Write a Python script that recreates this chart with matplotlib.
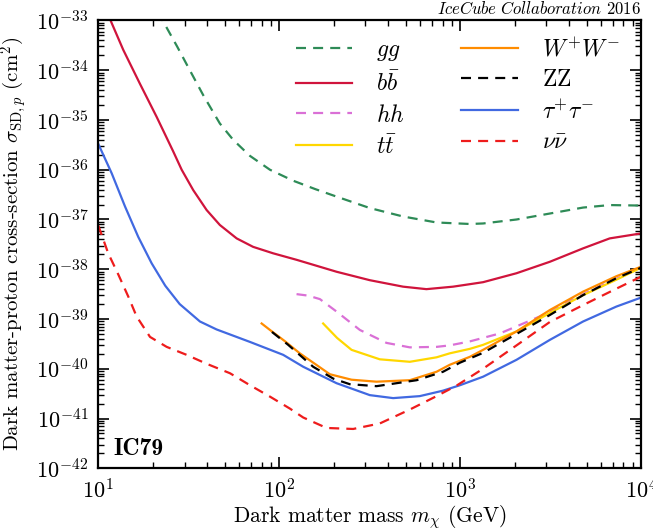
import numpy as np
import matplotlib
matplotlib.use("Agg")
import matplotlib.pyplot as plt

plt.rcParams['font.family'] = 'serif'
plt.rcParams['font.serif'] = ['cmr10', 'DejaVu Serif']
plt.rcParams['mathtext.fontset'] = 'cm'
plt.rcParams['axes.formatter.use_mathtext'] = True

# log10(mass / GeV) and log10(sigma / cm^2)
lm_gg = [1.33, 1.356, 1.437, 1.506, 1.58, 1.672, 1.746, 1.838, 1.949, 2.077, 2.20, 2.317, 2.501, 2.685,
         2.87, 3.054, 3.127, 3.312, 3.496, 3.68, 3.827, 4.0]
ls_gg = [-32.83, -33.0, -33.53, -34.0, -34.5, -35.07, -35.40, -35.72, -36.0, -36.22, -36.39, -36.54, -36.77,
         -36.94, -37.06, -37.09, -37.08, -37.0, -36.88, -36.76, -36.71, -36.72]

lm_bb = [1.05, 1.068, 1.138, 1.23, 1.323, 1.414, 1.461, 1.525, 1.599, 1.672, 1.765, 1.856, 1.967, 2.096,
         2.225, 2.317, 2.501, 2.685, 2.814, 2.961, 3.054, 3.127, 3.312, 3.496, 3.68, 3.827, 4.0]
ls_bb = [-32.85, -33.0, -33.59, -34.27, -34.94, -35.63, -36.0, -36.41, -36.81, -37.11, -37.38, -37.55, -37.68,
         -37.81, -37.95, -38.05, -38.22, -38.35, -38.40, -38.35, -38.30, -38.26, -38.08, -37.85, -37.58, -37.38,
         -37.28]

lm_hh = [2.096, 2.16, 2.225, 2.317, 2.446, 2.593, 2.722, 2.87, 2.943, 3.054, 3.22, 3.44, 3.68, 3.864, 4.0]
ls_hh = [-38.50, -38.53, -38.60, -38.85, -39.22, -39.48, -39.57, -39.56, -39.53, -39.45, -39.29, -38.95, -38.50,
         -38.19, -37.96]

lm_tt = [2.243, 2.32, 2.4, 2.556, 2.722, 2.87, 2.943, 3.054, 3.127, 3.312, 3.496, 3.68, 3.864, 4.0]
ls_tt = [-39.09, -39.38, -39.62, -39.81, -39.86, -39.77, -39.69, -39.60, -39.52, -39.25, -38.88, -38.52, -38.21,
         -37.97]

lm_ww = [1.903, 1.949, 2.033, 2.114, 2.28, 2.40, 2.538, 2.722, 2.87, 2.943, 3.054, 3.127, 3.312, 3.496,
         3.68, 3.864, 4.0]
ls_ww = [-39.09, -39.22, -39.45, -39.69, -40.11, -40.22, -40.26, -40.23, -40.06, -39.92, -39.76, -39.62, -39.25,
         -38.82, -38.45, -38.14, -37.95]

lm_zz = [1.96, 2.05, 2.188, 2.30, 2.39, 2.538, 2.76, 2.906, 2.998, 3.127, 3.312, 3.496, 3.68, 3.864, 4.0]
ls_zz = [-39.26, -39.52, -39.96, -40.20, -40.31, -40.35, -40.23, -40.06, -39.88, -39.68, -39.30, -38.92, -38.52,
         -38.18, -37.97]

lm_tau = [1.0, 1.074, 1.148, 1.221, 1.295, 1.37, 1.45, 1.562, 1.654, 1.838, 2.022, 2.133, 2.317, 2.501,
          2.63, 2.777, 2.906, 3.0, 3.127, 3.312, 3.496, 3.68, 3.864, 4.0]
ls_tau = [-35.48, -36.07, -36.74, -37.35, -37.88, -38.33, -38.70, -39.05, -39.21, -39.46, -39.72, -39.96, -40.29,
          -40.53, -40.59, -40.55, -40.44, -40.33, -40.16, -39.82, -39.42, -39.05, -38.75, -38.57]

lm_nu = [1.0, 1.055, 1.11, 1.166, 1.212, 1.286, 1.378, 1.488, 1.599, 1.728, 1.838, 1.949, 2.059, 2.133,
         2.262, 2.409, 2.556, 2.722, 2.87, 2.98, 3.127, 3.312, 3.496, 3.68, 3.864, 4.0]
ls_nu = [-37.12, -37.68, -38.10, -38.55, -38.95, -39.36, -39.56, -39.72, -39.90, -40.09, -40.33, -40.56, -40.80,
         -40.98, -41.19, -41.21, -41.10, -40.82, -40.55, -40.34, -40.0, -39.53, -39.06, -38.72, -38.39, -38.15]

curves = [
    (lm_gg, ls_gg, '#2e8b57', True, r'$gg$'),
    (lm_bb, ls_bb, '#d0143c', False, r'$b\bar{b}$'),
    (lm_hh, ls_hh, '#da70d6', True, r'$hh$'),
    (lm_tt, ls_tt, '#ffd700', False, r'$t\bar{t}$'),
    (lm_ww, ls_ww, '#ff8c00', False, r'$W^{+}W^{-}$'),
    (lm_zz, ls_zz, 'black', True, r'$\mathrm{ZZ}$'),
    (lm_tau, ls_tau, '#4169e1', False, r'$\tau^{+}\tau^{-}$'),
    (lm_nu, ls_nu, '#ee1c1c', True, r'$\nu\bar{\nu}$'),
]

fig = plt.figure(figsize=(6.53, 5.32), dpi=100)
ax = fig.add_axes([0.1505, 0.1198, 0.8311, 0.8417])

for lm, ls, col, dashed, lab in curves:
    line, = ax.plot(10**np.array(lm), 10**np.array(ls), color=col, lw=1.6, label=lab)
    if dashed:
        line.set_dashes((4.5, 3.2))

ax.set_xscale('log')
ax.set_yscale('log')
ax.set_xlim(10, 1e4)
ax.set_ylim(1e-42, 1e-33)
ax.set_yticks([10.0**k for k in range(-42, -32)])

ax.tick_params(which='both', direction='in', top=True, right=True, labelsize=16)
ax.tick_params(which='major', length=8, width=1.2, pad=7)
ax.tick_params(which='minor', length=4, width=1)
for s in ax.spines.values():
    s.set_linewidth(1.6)

ax.set_xlabel(r'Dark matter mass $m_\chi$ (GeV)', fontsize=15.5, labelpad=1)
ax.set_ylabel(r'Dark matter-proton cross-section $\sigma_{\mathrm{SD},p}$ (cm$^2$)', fontsize=15, labelpad=4)

ax.text(1.0, 1.008, r'$\mathit{IceCube\ Collaboration}$ 2016', transform=ax.transAxes,
        ha='right', va='bottom', fontsize=12)
ax.text(0.027, 0.03, 'IC79', transform=ax.transAxes, fontsize=17, fontfamily='cmb10')

ax.legend(ncol=2, loc='upper right', frameon=False, fontsize=17, handlelength=2.4,
          handletextpad=1.0, columnspacing=2.4, labelspacing=0.35,
          bbox_to_anchor=(1.0, 1.01))

fig.savefig('out.png', dpi=100)
